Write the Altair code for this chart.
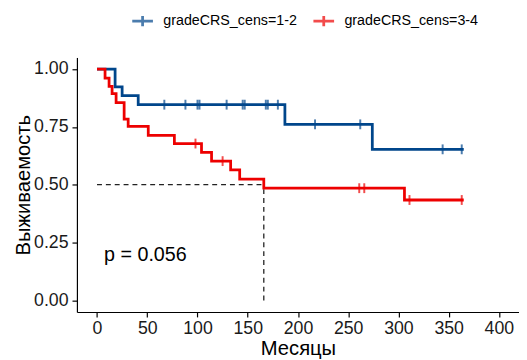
import altair as alt
import pandas as pd

groups = ["gradeCRS_cens=1-2", "gradeCRS_cens=3-4"]
colors = ["#00468B", "#ED0000"]

# Kaplan-Meier step curves (time in months, survival after each step)
blue_time = [0, 18, 25, 41, 187, 274, 365]
blue_surv = [1.0, 0.923, 0.885, 0.846, 0.761, 0.653, 0.653]
blue_cens = [67, 88, 100, 102, 129, 145, 147, 168, 170, 180, 217, 262, 344, 363]

red_time = [0, 8, 12, 15, 19, 27, 31, 51, 77, 104, 114, 133, 142, 166, 306, 365]
red_surv = [1.0, 0.961, 0.925, 0.894, 0.855, 0.784, 0.752, 0.713, 0.678, 0.640,
            0.602, 0.564, 0.524, 0.485, 0.434, 0.434]
red_cens = [98, 125, 261, 266, 311, 363]

median_time = 166
median_surv = 0.5

p_label = "p = 0.056"
p_time = 7
p_surv = 0.17

x_ticks = [0, 50, 100, 150, 200, 250, 300, 350, 400]
y_ticks = [0.0, 0.25, 0.5, 0.75, 1.0]


def step_value(times, survs, t):
    s = survs[0]
    for ti, si in zip(times, survs):
        if ti <= t:
            s = si
    return s


curve_rows = []
cens_rows = []
for g, tt, ss, cc in [(groups[0], blue_time, blue_surv, blue_cens),
                      (groups[1], red_time, red_surv, red_cens)]:
    for t, s in zip(tt, ss):
        curve_rows.append({"group": g, "time": t, "surv": s})
    for c in cc:
        cens_rows.append({"group": g, "time": c, "surv": step_value(tt, ss, c)})
curves = pd.DataFrame(curve_rows)
cens = pd.DataFrame(cens_rows)

hline = pd.DataFrame([{"time": 0, "time2": median_time, "surv": median_surv}])
vline = pd.DataFrame([{"time": median_time, "surv": 0, "surv2": median_surv}])
ptext = pd.DataFrame([{"time": p_time, "surv": p_surv, "label": p_label}])

FONT = "Liberation Sans"
xscale = alt.Scale(domain=[-20, 420], nice=False, zero=False)
yscale = alt.Scale(domain=[-0.05, 1.05], nice=False, zero=False)

xenc = alt.X("time:Q", scale=xscale,
             axis=alt.Axis(values=x_ticks, title="Месяцы", labelPadding=3, titlePadding=1.5))
yenc = alt.Y("surv:Q", scale=yscale,
             axis=alt.Axis(values=y_ticks, format=".2f", title="Выживаемость",
                           labelPadding=4, titlePadding=0))
cscale = alt.Scale(domain=groups, range=colors)

lines = alt.Chart(curves).mark_line(interpolate="step-after", strokeWidth=2.8).encode(
    x=xenc, y=yenc,
    color=alt.Color("group:N", scale=cscale,
                    legend=alt.Legend(title=None, orient="none", legendX=54.7, legendY=-49,
                                      direction="horizontal",
                                      symbolType="M-1,0H1M0,-0.5V0.5", symbolSize=441,
                                      symbolStrokeWidth=2.8, symbolOpacity=1,
                                      labelFontSize=14.5,
                                      labelFont=FONT, labelColor="#000", labelOffset=9,
                                      columnPadding=10)),
)

ticks = alt.Chart(cens).mark_tick(orient="vertical", size=10, thickness=2).encode(
    x="time:Q", y="surv:Q",
    color=alt.Color("group:N", scale=cscale),
)

hrule = alt.Chart(hline).mark_rule(strokeDash=[5, 4], strokeWidth=1.3, color="#222").encode(
    x="time:Q", x2="time2:Q", y="surv:Q")
vrule = alt.Chart(vline).mark_rule(strokeDash=[5, 4], strokeWidth=1.3, color="#222").encode(
    x="time:Q", y="surv:Q", y2="surv2:Q")

txt = alt.Chart(ptext).mark_text(align="left", baseline="alphabetic", fontSize=20,
                                 font=FONT, color="#000").encode(
    x="time:Q", y="surv:Q", text="label:N")

chart = alt.layer(hrule, vrule, lines, ticks, txt).properties(
    width=449, height=258.5,
    padding={"left": 70, "top": 47.5, "right": 0, "bottom": 44.5},
    autosize=alt.AutoSizeParams(type="none"),
).configure_view(stroke=None).configure_axis(
    grid=False, domainColor="#000", tickColor="#000", labelColor="#1a1a1a",
    titleColor="#000", labelFont=FONT, titleFont=FONT, labelFontSize=18,
    titleFontSize=20.5, titleFontWeight="normal", tickSize=5, domainWidth=1.2, tickWidth=1.2,
)

chart.save("out.html", embed_options={"renderer": "svg", "actions": False})
